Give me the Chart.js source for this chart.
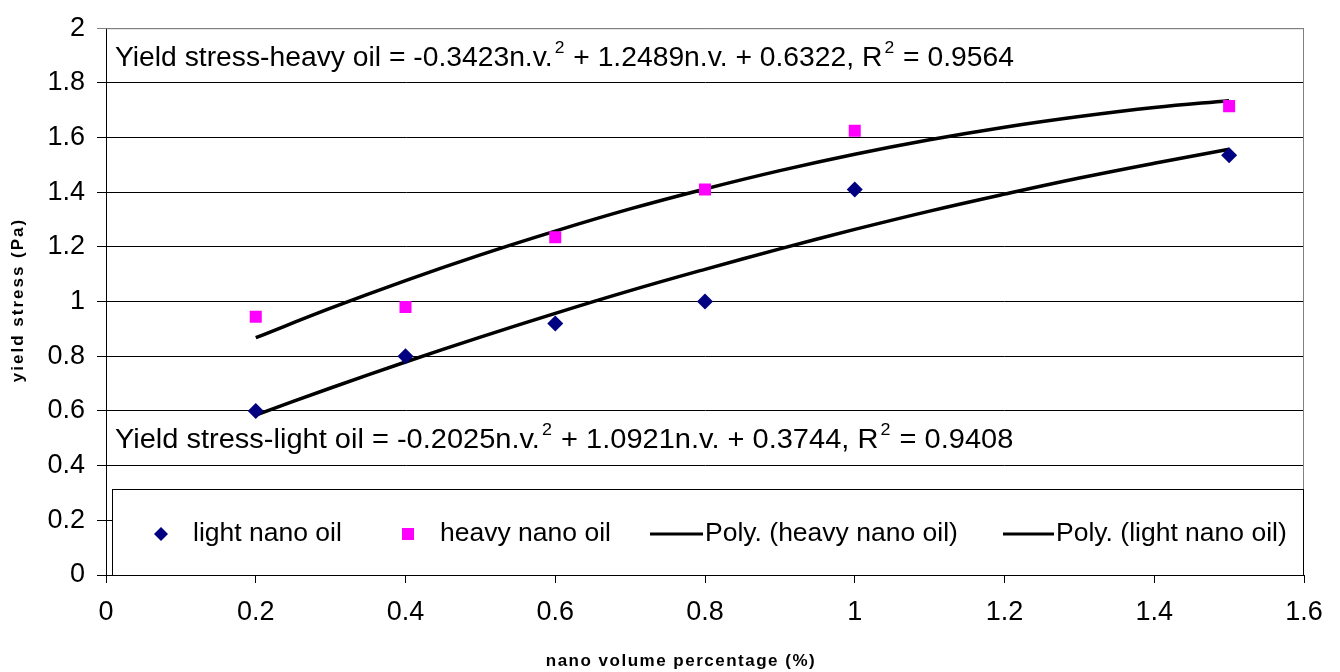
<!DOCTYPE html>
<html>
<head>
<meta charset="utf-8">
<script src="https://cdn.jsdelivr.net/npm/chart.js@4.4.1/dist/chart.umd.min.js"></script>
<style>
  body { margin: 0; background: #fff; }
  canvas { display: block; }
</style>
</head>
<body>
<canvas id="yieldChart" width="1340" height="672"></canvas>
<script>
// measured points
const nanoPct = [0.2, 0.4, 0.6, 0.8, 1.0, 1.5];
const lightOil = [0.6, 0.8, 0.92, 1.0, 1.41, 1.535];
const heavyOil = [0.945, 0.98, 1.235, 1.41, 1.625, 1.715];

// trend curves
const trendX = [0.2, 0.3, 0.4, 0.5, 0.6, 0.7, 0.8, 0.9, 1.0, 1.1, 1.2, 1.3, 1.4, 1.5];
const heavyTrend = [0.868, 0.976, 1.077, 1.171, 1.258, 1.339, 1.412, 1.479, 1.539, 1.592, 1.638, 1.677, 1.710, 1.735];
const lightTrend = [0.585, 0.684, 0.779, 0.870, 0.957, 1.040, 1.118, 1.193, 1.264, 1.331, 1.393, 1.452, 1.506, 1.557];

const xTicks = [0, 0.2, 0.4, 0.6, 0.8, 1, 1.2, 1.4, 1.6];
const yTicks = [0, 0.2, 0.4, 0.6, 0.8, 1, 1.2, 1.4, 1.6, 1.8, 2];

const heavyEq = ['Yield stress-heavy oil = -0.3423n.v.', '2', ' + 1.2489n.v. + 0.6322, R', '2', ' = 0.9564'];
const lightEq = ['Yield stress-light oil = -0.2025n.v.', '2', ' + 1.0921n.v. + 0.3744, R', '2', ' = 0.9408'];

const FONT = 'Arial, "Liberation Sans", sans-serif';
const NAVY = '#000080';
const MAGENTA = '#ff00ff';

const pairs = (xs, ys) => xs.map((v, i) => ({ x: v, y: ys[i] }));

// text with superscripts: odd entries are raised; the original text is a bit stretched sideways
function drawEquation(ctx, parts, x0, y, stretch) {
    ctx.save();
    ctx.translate(x0, y);
    ctx.scale(stretch, 1);
    ctx.textBaseline = 'alphabetic';
    ctx.textAlign = 'left';
    let x = 0;
    parts.forEach((p, i) => {
        if (i % 2) {
            ctx.font = '17px ' + FONT;
            ctx.fillText(p, x + 2, -13);
            x += ctx.measureText(p).width + 3;
        } else {
            ctx.font = '27.5px ' + FONT;
            ctx.fillText(p, x, 0);
            x += ctx.measureText(p).width;
        }
    });
    ctx.restore();
}

const overlay = {
    id: 'overlay',
    beforeDatasetsDraw(chart) {
        const { ctx, chartArea: a } = chart;
        ctx.save();
        ctx.strokeStyle = '#808080';
        ctx.lineWidth = 1;
        ctx.beginPath();
        ctx.moveTo(a.left, a.top + 0.5);
        ctx.lineTo(a.right - 0.5, a.top + 0.5);
        ctx.lineTo(a.right - 0.5, a.bottom);
        ctx.stroke();
        ctx.restore();
    },
    afterDatasetsDraw(chart) {
        const { ctx, chartArea: a, scales: { x, y } } = chart;
        ctx.save();
        ctx.fillStyle = '#000';
        drawEquation(ctx, heavyEq, a.left + 9, y.getPixelForValue(1.9) + 10, 1.028);
        drawEquation(ctx, lightEq, a.left + 9, y.getPixelForValue(0.5) + 10, 1.055);

        // legend box
        const top = Math.round(y.getPixelForValue(0.4)) + 23;
        const left = a.left + 6;
        ctx.fillStyle = '#fff';
        ctx.fillRect(left, top, a.right - left, a.bottom - top);
        ctx.strokeStyle = '#000';
        ctx.lineWidth = 1;
        ctx.strokeRect(left + 0.5, top + 0.5, a.right - left - 1, a.bottom - top);

        const cy = top + 45;
        ctx.font = '26.5px ' + FONT;
        ctx.textBaseline = 'middle';
        ctx.textAlign = 'left';

        ctx.fillStyle = NAVY;
        ctx.beginPath();
        ctx.moveTo(161, cy - 7); ctx.lineTo(168, cy); ctx.lineTo(161, cy + 7); ctx.lineTo(154, cy);
        ctx.closePath(); ctx.fill();
        ctx.fillStyle = '#000';
        ctx.fillText('light nano oil', 193, cy);

        ctx.fillStyle = MAGENTA;
        ctx.fillRect(402, cy - 6, 12, 12);
        ctx.fillStyle = '#000';
        ctx.fillText('heavy nano oil', 440, cy);

        ctx.lineWidth = 3;
        ctx.beginPath(); ctx.moveTo(650, cy); ctx.lineTo(703, cy); ctx.stroke();
        ctx.fillText('Poly. (heavy nano oil)', 705, cy);
        ctx.beginPath(); ctx.moveTo(1003, cy); ctx.lineTo(1054, cy); ctx.stroke();
        ctx.fillText('Poly. (light nano oil)', 1056, cy);
        ctx.restore();
    },
    afterDraw(chart) {
        const { ctx } = chart;
        ctx.save();
        ctx.fillStyle = '#000';
        ctx.font = 'bold 17px ' + FONT;
        ctx.letterSpacing = '1.5px';
        ctx.textAlign = 'center';
        ctx.textBaseline = 'middle';
        ctx.fillText('nano volume percentage (%)', 681, 661);
        ctx.translate(18, 300);
        ctx.rotate(-Math.PI / 2);
        ctx.letterSpacing = '2px';
        ctx.fillText('yield stress (Pa)', 0, 0);
        ctx.restore();
    }
};

const ctx = document.getElementById('yieldChart').getContext('2d');
const chart = new Chart(ctx, {
    type: 'scatter',
    data: {
        datasets: [
            {
                label: 'light nano oil',
                data: pairs(nanoPct, lightOil),
                pointStyle: 'rectRot',
                pointRadius: 8,
                backgroundColor: NAVY,
                borderColor: NAVY,
                borderWidth: 0
            },
            {
                label: 'heavy nano oil',
                data: pairs(nanoPct, heavyOil),
                pointStyle: 'rect',
                pointRadius: 8.5,
                backgroundColor: MAGENTA,
                borderColor: MAGENTA,
                borderWidth: 0
            },
            {
                label: 'Poly. (heavy nano oil)',
                type: 'line',
                data: pairs(trendX, heavyTrend),
                borderColor: '#000',
                borderWidth: 3.5,
                pointRadius: 0,
                tension: 0.4,
                fill: false
            },
            {
                label: 'Poly. (light nano oil)',
                type: 'line',
                data: pairs(trendX, lightTrend),
                borderColor: '#000',
                borderWidth: 3.5,
                pointRadius: 0,
                tension: 0.4,
                fill: false
            }
        ]
    },
    options: {
        responsive: false,
        animation: false,
        layout: { padding: { top: 20, right: 36, left: 0, bottom: 0 } },
        plugins: {
            legend: { display: false },
            tooltip: { enabled: false }
        },
        scales: {
            x: {
                type: 'linear',
                min: 0,
                max: 1.6,
                afterBuildTicks: (s) => { s.ticks = xTicks.map(v => ({ value: v })); },
                afterFit: (s) => { s.height = 97; },
                grid: { drawOnChartArea: false, tickLength: 8, color: '#000' },
                border: { color: '#000', width: 1 },
                ticks: {
                    color: '#000',
                    font: { family: FONT, size: 27 },
                    padding: 13,
                    maxRotation: 0,
                    callback: (v) => String(+v.toFixed(1))
                }
            },
            y: {
                min: 0,
                max: 2,
                afterBuildTicks: (s) => { s.ticks = yTicks.map(v => ({ value: v })); },
                afterFit: (s) => { s.width = 106; },
                grid: {
                    tickLength: 9,
                    color: (c) => c.tick && c.tick.value === 2 ? '#808080' : '#000'
                },
                border: { color: '#000', width: 1 },
                ticks: {
                    color: '#000',
                    font: { family: FONT, size: 27 },
                    padding: 12,
                    callback: (v) => String(+v.toFixed(1))
                }
            }
        }
    },
    plugins: [overlay]
});
</script>
</body>
</html>
